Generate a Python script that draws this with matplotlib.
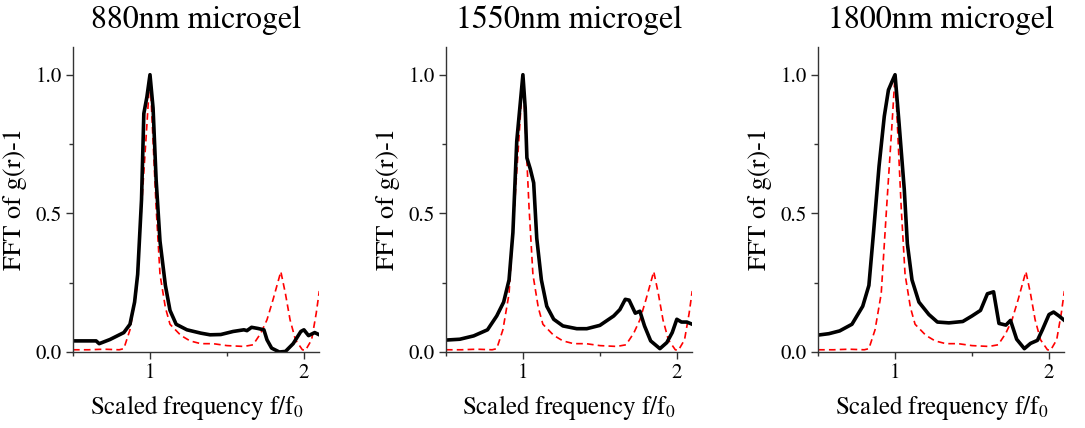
"""
Three-panel FFT of g(r)-1 vs scaled frequency for microgel samples,
measured (solid black) against the reference lattice (dashed red).
"""

import matplotlib
matplotlib.use('Agg')

import matplotlib.pyplot as plt
from matplotlib.ticker import MultipleLocator, FormatStrFormatter

plt.rcParams['font.family'] = ['STIXGeneral', 'DejaVu Serif']
plt.rcParams['mathtext.fontset'] = 'stix'

TITLES = ['880nm microgel', '1550nm microgel', '1800nm microgel']

# reference (dashed red) curve, same for all panels
REF_X = [0.50, 0.60, 0.70, 0.80, 0.83, 0.87, 0.91, 0.945, 0.98, 1.00, 1.02, 1.04,
         1.065, 1.10, 1.13, 1.20, 1.26, 1.33, 1.41, 1.50, 1.61, 1.67, 1.72, 1.76,
         1.80, 1.85, 1.88, 1.91, 1.945, 1.99, 2.01, 2.05, 2.08, 2.10]
REF_Y = [0.008, 0.008, 0.010, 0.008, 0.012, 0.08, 0.21, 0.52, 0.82, 1.00, 0.76, 0.52,
         0.28, 0.16, 0.10, 0.06, 0.04, 0.03, 0.03, 0.023, 0.02, 0.026, 0.068, 0.116,
         0.19, 0.29, 0.21, 0.116, 0.044, 0.008, 0.006, 0.044, 0.14, 0.22]

# measured curves
X_880 = [0.50, 0.65, 0.67, 0.74, 0.83, 0.87, 0.90, 0.92, 0.945, 0.96, 0.98, 1.00,
         1.02, 1.04, 1.065, 1.10, 1.13, 1.17, 1.24, 1.33, 1.39, 1.46, 1.54, 1.61,
         1.63, 1.66, 1.70, 1.74, 1.76, 1.79, 1.84, 1.88, 1.93, 1.98, 2.00, 2.03,
         2.07, 2.10]
Y_880 = [0.040, 0.040, 0.030, 0.045, 0.070, 0.100, 0.18, 0.28, 0.55, 0.86, 0.92, 1.00,
         0.88, 0.62, 0.40, 0.24, 0.15, 0.10, 0.080, 0.068, 0.062, 0.063, 0.074, 0.080,
         0.077, 0.089, 0.085, 0.080, 0.044, 0.014, 0.000, 0.002, 0.030, 0.074, 0.080,
         0.059, 0.070, 0.062]

X_1550 = [0.50, 0.59, 0.68, 0.77, 0.83, 0.875, 0.91, 0.935, 0.96, 0.98, 1.00, 1.015,
          1.026, 1.048, 1.07, 1.09, 1.12, 1.155, 1.20, 1.26, 1.35, 1.415, 1.50, 1.59,
          1.63, 1.665, 1.69, 1.73, 1.76, 1.79, 1.83, 1.89, 1.935, 1.97, 2.00, 2.03,
          2.065, 2.10]
Y_1550 = [0.043, 0.046, 0.058, 0.080, 0.13, 0.18, 0.26, 0.43, 0.76, 0.88, 1.00, 0.88,
          0.70, 0.66, 0.61, 0.41, 0.26, 0.165, 0.118, 0.094, 0.084, 0.084, 0.096, 0.13,
          0.153, 0.19, 0.187, 0.14, 0.147, 0.094, 0.040, 0.012, 0.034, 0.070, 0.118,
          0.108, 0.108, 0.100]

X_1800 = [0.50, 0.57, 0.64, 0.72, 0.79, 0.83, 0.86, 0.896, 0.93, 0.957, 0.98, 1.00,
          1.026, 1.06, 1.08, 1.11, 1.155, 1.22, 1.275, 1.35, 1.44, 1.50, 1.555, 1.60,
          1.64, 1.675, 1.72, 1.75, 1.79, 1.84, 1.88, 1.925, 1.957, 2.00, 2.03, 2.065,
          2.10]
Y_1800 = [0.061, 0.066, 0.076, 0.100, 0.165, 0.24, 0.43, 0.67, 0.85, 0.945, 0.975, 1.00,
          0.825, 0.585, 0.39, 0.26, 0.18, 0.135, 0.108, 0.105, 0.110, 0.130, 0.150, 0.21,
          0.217, 0.103, 0.097, 0.114, 0.046, 0.012, 0.031, 0.042, 0.080, 0.135, 0.144,
          0.130, 0.114]

MEASURED = [(X_880, Y_880), (X_1550, Y_1550), (X_1800, Y_1800)]

LEFTS = [0.0673, 0.411, 0.754]


def main():
    fig = plt.figure(figsize=(10.85, 4.28), dpi=100)

    for left, title, (mx, my) in zip(LEFTS, TITLES, MEASURED):
        ax = fig.add_axes([left, 0.1776, 0.227, 0.7126])
        ax.plot(REF_X, REF_Y, color='red', linestyle=(0, (4, 2.5)), linewidth=1.2)
        ax.plot(mx, my, color='black', linewidth=2.6, solid_joinstyle='round')

        ax.set_xlim(0.5, 2.1)
        ax.set_ylim(0, 1.1)
        ax.xaxis.set_major_locator(MultipleLocator(1))
        ax.xaxis.set_minor_locator(MultipleLocator(0.5))
        ax.yaxis.set_major_locator(MultipleLocator(0.5))
        ax.yaxis.set_minor_locator(MultipleLocator(0.25))
        ax.yaxis.set_major_formatter(FormatStrFormatter('%.1f'))

        for side in ('top', 'right'):
            ax.spines[side].set_visible(False)
        for side in ('left', 'bottom'):
            ax.spines[side].set_linewidth(1.0)
            ax.spines[side].set_color('#333333')

        ax.tick_params(which='major', direction='out', length=5, width=1.0,
                       labelsize=15, color='#333333', pad=3)
        ax.tick_params(which='minor', direction='out', length=3, width=1.0,
                       color='#333333')

        ax.set_ylabel('FFT of g(r)-1', fontsize=19, labelpad=6)
        ax.set_xlabel('Scaled frequency f/f$_0$', fontsize=18, labelpad=7)
        ax.set_title(title, fontsize=23, pad=14)

    fig.savefig('out.png', dpi=100)
    plt.close(fig)


if __name__ == '__main__':
    main()
